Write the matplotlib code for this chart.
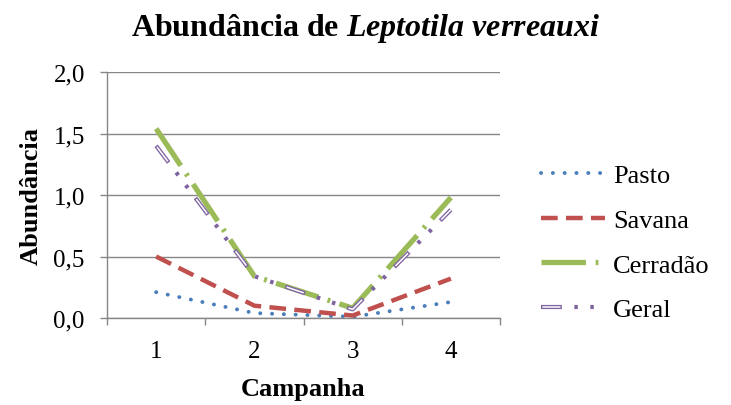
import matplotlib
matplotlib.use("Agg")
import matplotlib.pyplot as plt

plt.rcParams['font.family'] = ['Liberation Serif', 'DejaVu Serif']
plt.rcParams['mathtext.fontset'] = 'custom'
plt.rcParams['mathtext.bfit'] = 'Liberation Serif:italic:bold'
plt.rcParams['mathtext.it'] = 'Liberation Serif:italic:bold'
plt.rcParams['lines.scale_dashes'] = False

campanhas = [1, 2, 3, 4]
pasto = [0.21, 0.04, 0.01, 0.13]
savana = [0.50, 0.10, 0.02, 0.32]
cerradao = [1.54, 0.34, 0.08, 0.98]
geral = [1.40, 0.34, 0.07, 0.88]
yticks = [0.0, 0.5, 1.0, 1.5, 2.0]
ytick_labels = ["0,0", "0,5", "1,0", "1,5", "2,0"]

fig = plt.figure(figsize=(7.31, 4.06), dpi=100)
ax = fig.add_axes([0.1464, 0.2143, 0.5376, 0.6057])

grey = "#868686"
ax.plot(campanhas, pasto, color="#4A7EBB", lw=2.8, ls=(0, (0.1, 8.4)),
        dash_capstyle="round", label="Pasto")
ax.plot(campanhas, savana, color="#C0504D", lw=3.2, ls=(0, (12, 6)), label="Savana")
ax.plot(campanhas, cerradao, color="#9BBB59", lw=3.8, ls=(0, (32, 7, 2, 7)),
        label="Cerradão")
geral_dash = (0, (15, 9, 2.5, 9, 2.5, 9))
l1, = ax.plot(campanhas, geral, color="#8064A2", lw=3, ls=geral_dash)
l2, = ax.plot(campanhas, geral, color="white", lw=1.1, ls=(46, (13, 34)))

ax.set_xlim(0.5, 4.5)
ax.set_ylim(0, 2.0)
ax.set_yticks(yticks)
ax.set_yticklabels(ytick_labels)
ax.set_xticks(campanhas)
ax.set_xticks([0.5, 1.5, 2.5, 3.5, 4.5], minor=True)
ax.tick_params(axis="x", which="major", length=0, pad=15.5, labelsize=18)
ax.tick_params(axis="x", which="minor", length=5, width=1, color=grey)
ax.tick_params(axis="y", length=5, width=1, color=grey, pad=11, labelsize=18)
ax.grid(axis="y", color=grey, lw=1)
ax.set_axisbelow(True)
for s in ["top", "right"]:
    ax.spines[s].set_visible(False)
for s in ["left", "bottom"]:
    ax.spines[s].set_color(grey)
    ax.spines[s].set_linewidth(1)

ax.set_xlabel("Campanha", fontsize=19, fontweight="bold", labelpad=11)
ax.set_ylabel("Abundância", fontsize=19, fontweight="bold", labelpad=7.5)

fig.text(0.5, 0.93, r"Abundância de $\mathbfit{Leptotila\ verreauxi}$",
         ha="center", va="center", fontsize=23, fontweight="bold")

handles = ax.get_lines()[:3] + [(l1, l2)]
labels = ["Pasto", "Savana", "Cerradão", "Geral"]
fig.legend(handles, labels, loc="center left", bbox_to_anchor=(0.725, 0.40),
           frameon=False, fontsize=19, handlelength=2.45, labelspacing=0.8,
           handletextpad=0.3, borderaxespad=0)

fig.savefig("out.png", dpi=100)
